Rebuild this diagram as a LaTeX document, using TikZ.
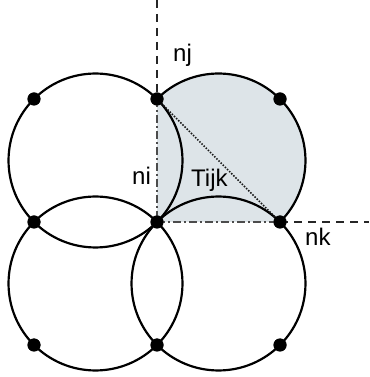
\documentclass[tikz,border=0pt]{standalone}
\usepackage{fontspec}
\setmainfont{Liberation Sans}
\begin{document}
\begin{tikzpicture}[x=1pt,y=1pt,
  dot/.style={circle,fill=black,inner sep=0pt,minimum size=13pt},
  ring/.style={line width=2.2pt,black},
  lbl/.style={inner sep=0pt,anchor=base west,font=\fontsize{24}{28}\selectfont},
  dashline/.style={line width=1.5pt,black!85,dash pattern=on 8pt off 6pt},
  dashdotline/.style={line width=1.5pt,black!70,dash pattern=on 8pt off 3pt on 2pt off 3pt},
  dotline/.style={line width=1.6pt,black!90,dash pattern=on 1.5pt off 1.5pt}]
\useasboundingbox (0,0) rectangle (369,377);
\def\R{86.97}
% shaded region
\fill[fill={rgb,255:red,221;green,228;blue,232}] (157,155) -- (157,278) arc[start angle=135,end angle=-45,radius=\R] -- cycle;
% circles
\draw[ring] (95.5,216.5) circle[radius=\R];
\draw[ring] (95.5,93.5) circle[radius=\R];
\draw[ring] (218.5,93.5) circle[radius=\R];
\draw[ring] (157,278) arc[start angle=135,end angle=-45,radius=\R];
% dots
\node[dot] (a1) at (34,278) {};
\node[dot] (nj) at (157,278) {};
\node[dot] (a3) at (280,278) {};
\node[dot] (b1) at (34,155) {};
\node[dot] (ni) at (157,155) {};
\node[dot] (nk) at (280,155) {};
\node[dot] (c1) at (34,32) {};
\node[dot] (c2) at (157,32) {};
\node[dot] (c3) at (280,32) {};
\coordinate (top) at (157,377);
\coordinate (right) at (369,155);
% lines
\draw[dashline] (top) -- (nj.center);
\draw[dashline] (nk.center) -- (right);
\draw[dashdotline] (nj.center) -- (ni.center);
\draw[dashdotline] (ni.center) -- (nk.center);
\draw[dotline] (nj.center) -- (nk.center);
% redraw dots on top
\foreach \p in {a1,nj,a3,b1,ni,nk,c1,c2,c3} \fill (\p.center) circle[radius=6.5pt];
% labels
\node[lbl] (lnj) at (173,315) {nj};
\node[lbl] (lni) at (132,192) {ni};
\node[lbl] (lt) at (191,190) {Tijk};
\node[lbl] (lnk) at (305,131) {nk};
\end{tikzpicture}
\end{document}
